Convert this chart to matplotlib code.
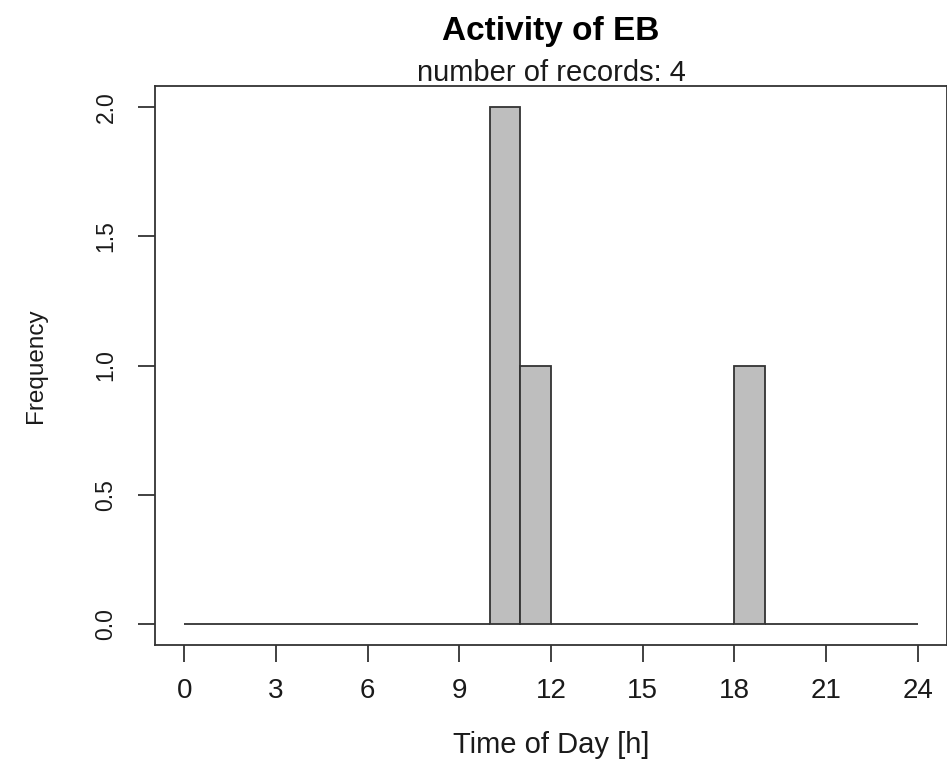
import matplotlib
matplotlib.use("Agg")
import matplotlib.pyplot as plt
import numpy as np

plt.rcParams['font.family'] = ['Liberation Sans', 'DejaVu Sans']

# Data: histogram counts per hour bin
bin_starts = list(range(24))
counts = [0, 0, 0, 0, 0, 0, 0, 0, 0, 0, 2, 1, 0, 0, 0, 0, 0, 0, 1, 0, 0, 0, 0, 0]
x_ticks = [0, 3, 6, 9, 12, 15, 18, 21, 24]
y_ticks = [0.0, 0.5, 1.0, 1.5, 2.0]
y_tick_labels = ["0.0", "0.5", "1.0", "1.5", "2.0"]
title = "Activity of EB"
subtitle = "number of records: 4"

W, H = 947, 760
fig = plt.figure(figsize=(W / 100, H / 100), dpi=100)
ax = fig.add_axes([155 / W, 1 - 645 / H, 792 / W, (645 - 86) / H])

ax.bar(bin_starts, counts, width=1.0, align='edge', color='#BEBEBE',
       edgecolor='#333333', linewidth=1.3)

ax.set_xlim(-0.96, 24.96)
ax.set_ylim(-0.08, 2.08)
ax.set_xticks(x_ticks)
ax.set_xticklabels([str(v) for v in x_ticks], fontsize=20)
ax.set_yticks(y_ticks)
ax.set_yticklabels(y_tick_labels, rotation=90, va='center', fontsize=16.5)

for s in ax.spines.values():
    s.set_color('#333333')
    s.set_linewidth(1.3)

ax.tick_params(axis='both', direction='out', length=12, width=1.3, color='#333333',
               labelcolor='#1a1a1a')
ax.tick_params(axis='x', pad=12)
ax.tick_params(axis='y', pad=15)

ax.set_xlabel("Time of Day [h]", fontsize=21, color='#1a1a1a')
ax.xaxis.set_label_coords(0.5, (645 - 731) / (645 - 86))
ax.set_ylabel("Frequency", fontsize=17.5, color='#1a1a1a')
ax.yaxis.set_label_coords((47 - 155) / 792, 0.5)

cx = (155 + 947) / 2 / W
fig.text(cx, 1 - 40 / H, title, ha='center', va='baseline',
         fontsize=24, fontweight='bold', color='#000000')
fig.text(cx, 1 - 81 / H, subtitle, ha='center', va='baseline',
         fontsize=21, color='#1a1a1a')

fig.savefig("out.png", dpi=100)
